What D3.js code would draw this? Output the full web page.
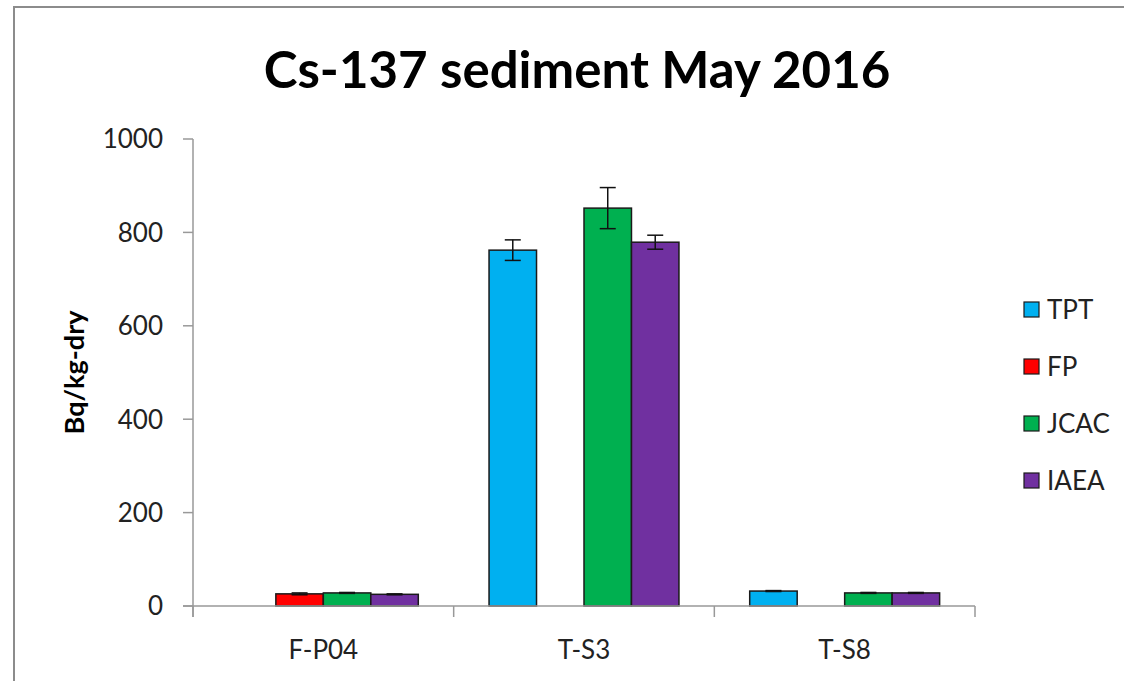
<!DOCTYPE html>
<html lang="en">
<head>
<meta charset="UTF-8">
<title>Cs-137 sediment May 2016</title>
<script src="https://d3js.org/d3.v7.min.js"></script>
<style>
    body { margin: 0; background: #fff; }
    svg { display: block; font-family: Lato, "Open Sans", sans-serif; }
    .frame { fill: none; stroke: #8c8c8c; stroke-width: 2px; }
    .tick-label { font-size: 26px; fill: #222; }
</style>
</head>
<body>
<div id="chart"></div>
<script>
    // categories and series
    const categories = ["F-P04", "T-S3", "T-S8"];
    const series = ["TPT", "FP", "JCAC", "IAEA"];
    const colors = ["#00b0f0", "#ff0000", "#00b050", "#7030a0"];

    // values per series, in category order (null = no bar)
    const tptValues  = [null, 762, 32];
    const fpValues   = [26, null, null];
    const jcacValues = [28, 852, 28];
    const iaeaValues = [25, 779, 28];

    const tptErrors  = [null, 22, 1];
    const fpErrors   = [2, null, null];
    const jcacErrors = [1, 44, 1];
    const iaeaErrors = [1, 15, 1];

    const yTicks = [0, 200, 400, 600, 800, 1000];

    (function () {
    var values = [tptValues, fpValues, jcacValues, iaeaValues];
    var errors = [tptErrors, fpErrors, jcacErrors, iaeaErrors];

    var width = 1124, height = 681;
    var plotLeft = 193, plotRight = 975, plotTop = 139, plotBottom = 606;

    var svg = d3.select("#chart").append("svg")
        .attr("width", width)
        .attr("height", height);

    svg.append("rect").attr("class", "frame")
        .attr("x", 14).attr("y", 7)
        .attr("width", 1130).attr("height", 700);

    svg.append("text")
        .attr("x", 577).attr("y", 88)
        .attr("text-anchor", "middle")
        .style("font-size", "51px")
        .style("font-weight", "bold")
        .style("fill", "#000")
        .text("Cs-137 sediment May 2016");

    var x0 = d3.scaleBand().domain(categories).range([plotLeft, plotRight]);
    var x1 = d3.scaleBand().domain(series).range([0, x0.bandwidth()]).paddingOuter(0.745);
    var y = d3.scaleLinear().domain([0, 1000]).range([plotBottom, plotTop]);

    // y axis
    var yAxis = svg.append("g");
    yAxis.append("line")
        .attr("x1", plotLeft).attr("x2", plotLeft)
        .attr("y1", plotTop).attr("y2", plotBottom + 11)
        .attr("stroke", "#999").attr("stroke-width", 1.5);
    yAxis.selectAll(".yt").data(yTicks).enter().append("line")
        .attr("x1", plotLeft - 10).attr("x2", plotLeft)
        .attr("y1", d => y(d)).attr("y2", d => y(d))
        .attr("stroke", "#999").attr("stroke-width", 1.5);
    yAxis.selectAll("text").data(yTicks).enter().append("text")
        .attr("class", "tick-label")
        .attr("x", plotLeft - 30)
        .attr("y", d => y(d))
        .attr("dy", "0.36em")
        .attr("text-anchor", "end")
        .text(d => d);

    svg.append("text")
        .attr("transform", "translate(75," + (plotTop + plotBottom) / 2 + ") rotate(-90)")
        .attr("text-anchor", "middle")
        .attr("dy", "0.35em")
        .style("font-size", "27px")
        .style("font-weight", "bold")
        .style("fill", "#000")
        .text("Bq/kg-dry");

    // bars
    var bars = [];
    categories.forEach((c, ci) => {
        series.forEach((s, si) => {
            if (values[si][ci] != null) {
                bars.push({cat: c, series: s, color: colors[si], value: values[si][ci], err: errors[si][ci]});
            }
        });
    });

    svg.append("g").selectAll("rect")
        .data(bars).enter().append("rect")
        .attr("x", d => x0(d.cat) + x1(d.series))
        .attr("y", d => y(d.value))
        .attr("width", x1.bandwidth())
        .attr("height", d => y(0) - y(d.value))
        .attr("fill", d => d.color)
        .attr("stroke", "#1a1a1a")
        .attr("stroke-width", 1.5);

    // x axis
    var xAxis = svg.append("g");
    xAxis.append("line")
        .attr("x1", plotLeft - 10).attr("x2", plotRight)
        .attr("y1", plotBottom).attr("y2", plotBottom)
        .attr("stroke", "#999").attr("stroke-width", 1.5);
    var bounds = categories.map(c => x0(c)).concat([plotRight]);
    xAxis.selectAll(".xt").data(bounds).enter().append("line")
        .attr("x1", d => d).attr("x2", d => d)
        .attr("y1", plotBottom).attr("y2", plotBottom + 11)
        .attr("stroke", "#999").attr("stroke-width", 1.5);
    xAxis.selectAll("text").data(categories).enter().append("text")
        .attr("class", "tick-label")
        .attr("x", d => x0(d) + x0.bandwidth() / 2)
        .attr("y", 650)
        .attr("dy", "0.36em")
        .attr("text-anchor", "middle")
        .text(d => d);

    // error bars
    var eb = svg.append("g").attr("stroke", "#111").attr("stroke-width", 1.5);
    bars.forEach(d => {
        var cx = x0(d.cat) + x1(d.series) + x1.bandwidth() / 2;
        eb.append("line").attr("x1", cx).attr("x2", cx)
            .attr("y1", y(d.value + d.err)).attr("y2", y(d.value - d.err));
        [d.value + d.err, d.value - d.err].forEach(v => {
            eb.append("line").attr("x1", cx - 8).attr("x2", cx + 8)
                .attr("y1", y(v)).attr("y2", y(v));
        });
    });

    // legend
    var legend = svg.append("g").selectAll("g")
        .data(series).enter().append("g")
        .attr("transform", (d, i) => "translate(1024," + (310 + i * 57) + ")");
    legend.append("rect")
        .attr("x", 0).attr("y", -8)
        .attr("width", 15).attr("height", 15)
        .attr("fill", (d, i) => colors[i])
        .attr("stroke", "#1a1a1a").attr("stroke-width", 1.2);
    legend.append("text")
        .attr("class", "tick-label")
        .attr("x", 23).attr("y", 0)
        .attr("dy", "0.36em")
        .text(d => d);
    })();
</script>
</body>
</html>
